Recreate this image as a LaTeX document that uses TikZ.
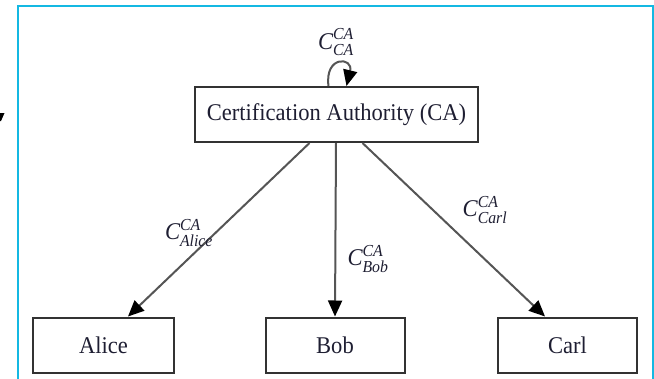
\documentclass[tikz,border=0pt]{standalone}
\usepackage{amsmath}
\usepackage{fontspec}
\setmainfont[FakeStretch=0.94]{Liberation Serif}
\usetikzlibrary{arrows.meta}

\definecolor{framecyan}{RGB}{20,184,226}
\definecolor{boxgray}{RGB}{50,50,50}
\definecolor{linegray}{RGB}{85,85,85}
\definecolor{inkdark}{RGB}{30,30,50}

% certificate C^{issuer}_{subject}
\newcommand{\certof}[2]{$\text{\itshape C}^{\text{\itshape #1}}_{\text{\itshape #2}}$}

\begin{document}
\begin{tikzpicture}[x=1pt,y=-1pt,
  box/.style={draw=boxgray, line width=2pt, minimum height=55pt, inner sep=0pt,
    font=\fontsize{24}{26}\selectfont, text=inkdark},
  link/.style={draw=linegray, line width=2pt,
    -{Triangle[length=16pt,width=14pt,color=black]}},
  lbl/.style={font=\fontsize{24}{26}\selectfont, text=inkdark, inner sep=0pt}]

\useasboundingbox (0,0) rectangle (654,378);
\clip (0,0) rectangle (654,378);

% outer frame
\draw[framecyan, line width=2pt] (17.5,420) -- (17.5,5.5) -- (652.5,5.5) -- (652.5,420);

% stray mark at the left edge
\fill[black] (0,113) -- (4.5,113) -- (1,121) -- (0,121) -- cycle;

% boxes
\node[box, minimum width=283pt] (ca) at (336.5,114.5) {Certification Authority (CA)};
\node[box, minimum width=141pt] (alice) at (103.5,345) {Alice};
\node[box, minimum width=139pt] (bob) at (335,345) {Bob};
\node[box, minimum width=139pt] (carl) at (567.5,345) {Carl};

% self-signed certificate loop
\draw[link] ([xshift=-8pt]ca.north) .. controls +(-4,-31) and +(7,-29) .. ([xshift=10pt]ca.north);
\node[lbl] (lca) at (336,42) {\certof{CA}{CA}};

% issued certificates
\draw[link] ([xshift=-27pt]ca.south) -- ([xshift=24.5pt]alice.north);
\draw[link] ([xshift=-0.5pt]ca.south) -- (bob.north);
\draw[link] ([xshift=26pt]ca.south) -- ([xshift=-22.5pt]carl.north);

\node[lbl] (lalice) at (189,233) {\certof{CA}{Alice}};
\node[lbl] (lbob) at (368,259) {\certof{CA}{Bob}};
\node[lbl] (lcarl) at (485,210) {\certof{CA}{Carl}};
\end{tikzpicture}
\end{document}
